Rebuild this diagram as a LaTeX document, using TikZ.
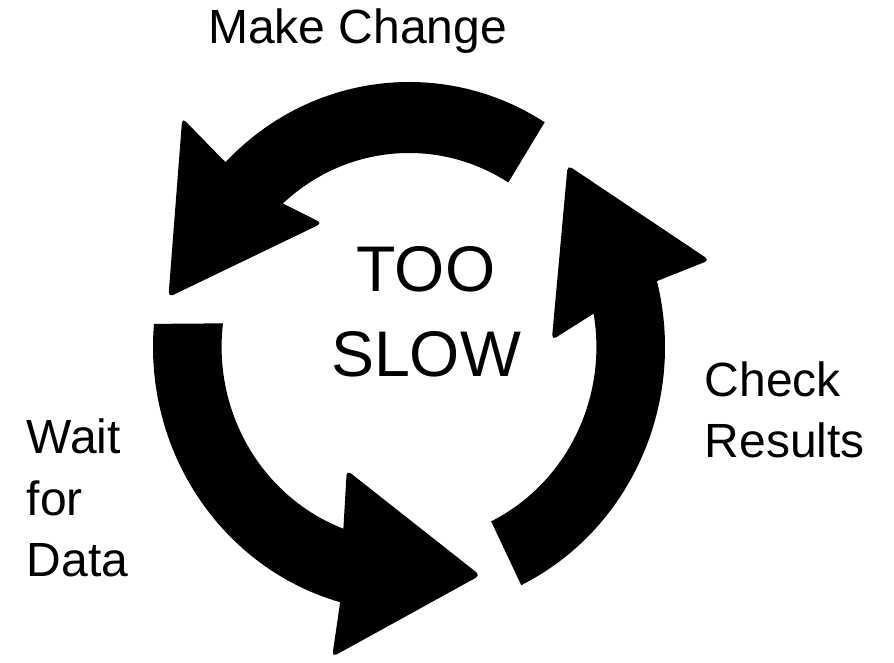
\documentclass[tikz,border=0pt]{standalone}
\usepackage{fontspec}
\setmainfont{Liberation Sans}

\tikzset{
  cyclearrow/.style={fill=black},
  cyclelabel/.style={inner sep=0pt, align=left, anchor=base west,
    font=\fontsize{48}{61.5}\selectfont},
  centrelabel/.style={inner sep=0pt, align=center, anchor=base,
    font=\fontsize{64.5}{85}\selectfont}
}

\begin{document}
\begin{tikzpicture}[x=1pt,y=1pt]
\useasboundingbox (0,0) rectangle (894,663);

\begin{scope}[shift={(409,316)},xscale=0.966]
% wait for data
\fill[cyclearrow] (175:265) arc[start angle=175, end angle=254.4, radius=265]
  [rounded corners=5pt] -- (255.6:320) -- (287.9:240) -- (242.4:139)
  [sharp corners] -- (249.5:194) arc[start angle=249.5, end angle=173, radius=194] -- cycle;

% make change
\fill[cyclearrow] (58:265) arc[start angle=58, end angle=135.8, radius=265]
  [rounded corners=5pt] -- (135.7:328) -- (168.7:254) -- (126:153)
  [sharp corners] -- (132.3:194) arc[start angle=132.3, end angle=58, radius=194] -- cycle;

% check results
\fill[cyclearrow] (296:265) arc[start angle=296, end angle=374.4, radius=265]
  [rounded corners=5pt] -- (375.6:323) -- (407.9:245) -- (362.7:148)
  [sharp corners] -- (369.9:194) arc[start angle=369.9, end angle=296, radius=194] -- cycle;
\end{scope}

% labels (base anchor sits on the last line)
\node[cyclelabel, anchor=base] (make) at (357.5,619) {Make Change};
\node[centrelabel] (slow) at (426,286) {TOO\\SLOW};
\node[cyclelabel] (check) at (704.5,205) {Check\\Results};
\node[cyclelabel] (wait) at (26.5,86) {Wait\\for\\Data};
\end{tikzpicture}
\end{document}
